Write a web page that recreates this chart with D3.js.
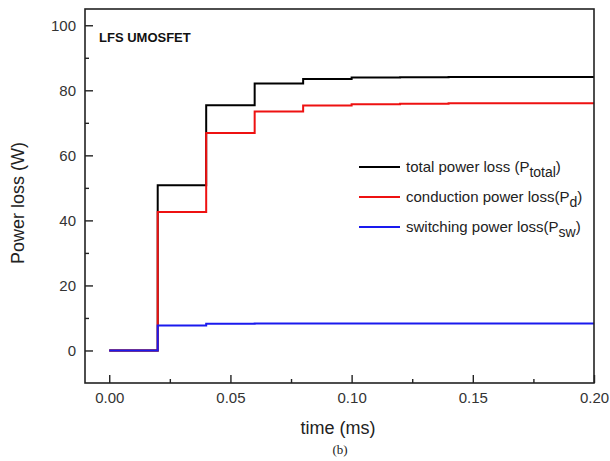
<!DOCTYPE html>
<html>
<head>
<meta charset="utf-8">
<script src="https://cdn.jsdelivr.net/npm/d3@7"></script>
<style>
  body { margin: 0; background: #fff; }
  text { font-family: Arial, "Liberation Sans", sans-serif; }
</style>
</head>
<body>
<svg id="chart" width="610" height="461"></svg>
<script>
// step times (ms) and power loss values (W)
var times = [0.00, 0.02, 0.04, 0.06, 0.08, 0.10, 0.12, 0.14, 0.16, 0.18, 0.20];
var totalLoss = [0, 50.8, 75.4, 82.1, 83.5, 83.9, 84.0, 84.1, 84.1, 84.1, 84.1];
var conductionLoss = [0, 42.6, 66.9, 73.5, 75.3, 75.7, 75.9, 76.0, 76.0, 76.0, 76.0];
var switchingLoss = [0, 7.7, 8.2, 8.3, 8.3, 8.3, 8.3, 8.3, 8.3, 8.3, 8.3];
var xTicks = [0.00, 0.05, 0.10, 0.15, 0.20];
var yTicks = [0, 20, 40, 60, 80, 100];

var series = [
    { name: "total", values: totalLoss, color: "#000000", label: "total power loss (P", sub: "total" },
    { name: "cond", values: conductionLoss, color: "#ee1111", label: "conduction power loss(P", sub: "d" },
    { name: "sw", values: switchingLoss, color: "#1a1aee", label: "switching power loss(P", sub: "sw" }
];

var svg = d3.select("#chart");
var plotL = 85, plotR = 594, plotT = 9, plotB = 383;

var x = d3.scaleLinear().domain([-0.01, 0.20]).range([plotL, plotR]);
var y = d3.scaleLinear().domain([-10, 105]).range([plotB, plotT]);

// data lines (step after)
var line = d3.line()
    .x(function (d) { return x(d[0]); })
    .y(function (d) { return y(d[1]); })
    .curve(d3.curveStepAfter);

series.forEach(function (s) {
    var pts = times.map(function (t, i) { return [t, s.values[i]]; });
    svg.append("path")
        .datum(pts)
        .attr("d", line)
        .attr("fill", "none")
        .attr("stroke", s.color)
        .attr("stroke-width", 2);
});

// frame
svg.append("rect")
    .attr("x", plotL).attr("y", plotT)
    .attr("width", plotR - plotL).attr("height", plotB - plotT)
    .attr("fill", "none").attr("stroke", "#222").attr("stroke-width", 1.6);

// axes with inward ticks
var xAxis = d3.axisBottom(x).tickValues(xTicks).tickSize(-8).tickPadding(9)
    .tickFormat(d3.format(".2f"));
var gx = svg.append("g").attr("transform", "translate(0," + plotB + ")").call(xAxis);
var xMinor = d3.axisBottom(x).tickValues([0.025, 0.075, 0.125, 0.175]).tickSize(-4).tickFormat("");
var gxm = svg.append("g").attr("transform", "translate(0," + plotB + ")").call(xMinor);

var yAxis = d3.axisLeft(y).tickValues(yTicks).tickSize(-8).tickPadding(9);
var gy = svg.append("g").attr("transform", "translate(" + plotL + ",0)").call(yAxis);
var yMinor = d3.axisLeft(y).tickValues([10, 30, 50, 70, 90]).tickSize(-4).tickFormat("");
var gym = svg.append("g").attr("transform", "translate(" + plotL + ",0)").call(yMinor);

[gx, gxm, gy, gym].forEach(function (g) {
    g.select(".domain").remove();
    g.selectAll(".tick line").attr("stroke", "#222").attr("stroke-width", 1.4);
    g.selectAll(".tick text").attr("fill", "#333").style("font-size", "15px");
});

// axis titles
svg.append("text")
    .attr("x", 338).attr("y", 434)
    .attr("text-anchor", "middle")
    .style("font-size", "18px").attr("fill", "#222")
    .text("time (ms)");

svg.append("text")
    .attr("transform", "translate(24,203) rotate(-90)")
    .attr("text-anchor", "middle")
    .style("font-size", "18px").attr("fill", "#222")
    .text("Power loss (W)");

svg.append("text")
    .attr("x", 340).attr("y", 454)
    .attr("text-anchor", "middle")
    .style("font-family", "'Liberation Serif', 'DejaVu Serif', serif")
    .style("font-size", "13px").attr("fill", "#222")
    .text("(b)");

svg.append("text")
    .attr("x", 99).attr("y", 42)
    .style("font-size", "13px").style("font-weight", "bold").attr("fill", "#111")
    .text("LFS UMOSFET");

// legend
var legend = svg.append("g");
series.forEach(function (s, i) {
    var ly = 167 + i * 30;
    legend.append("line")
        .attr("x1", 359).attr("x2", 400)
        .attr("y1", ly).attr("y2", ly)
        .attr("stroke", s.color).attr("stroke-width", 2);
    var t = legend.append("text")
        .attr("x", 406).attr("y", ly + 5)
        .style("font-size", "15px").attr("fill", "#222");
    t.append("tspan").text(s.label);
    t.append("tspan").attr("dy", 5).style("font-size", "14px").text(s.sub);
    t.append("tspan").attr("dy", -5).text(")");
});
</script>
</body>
</html>
